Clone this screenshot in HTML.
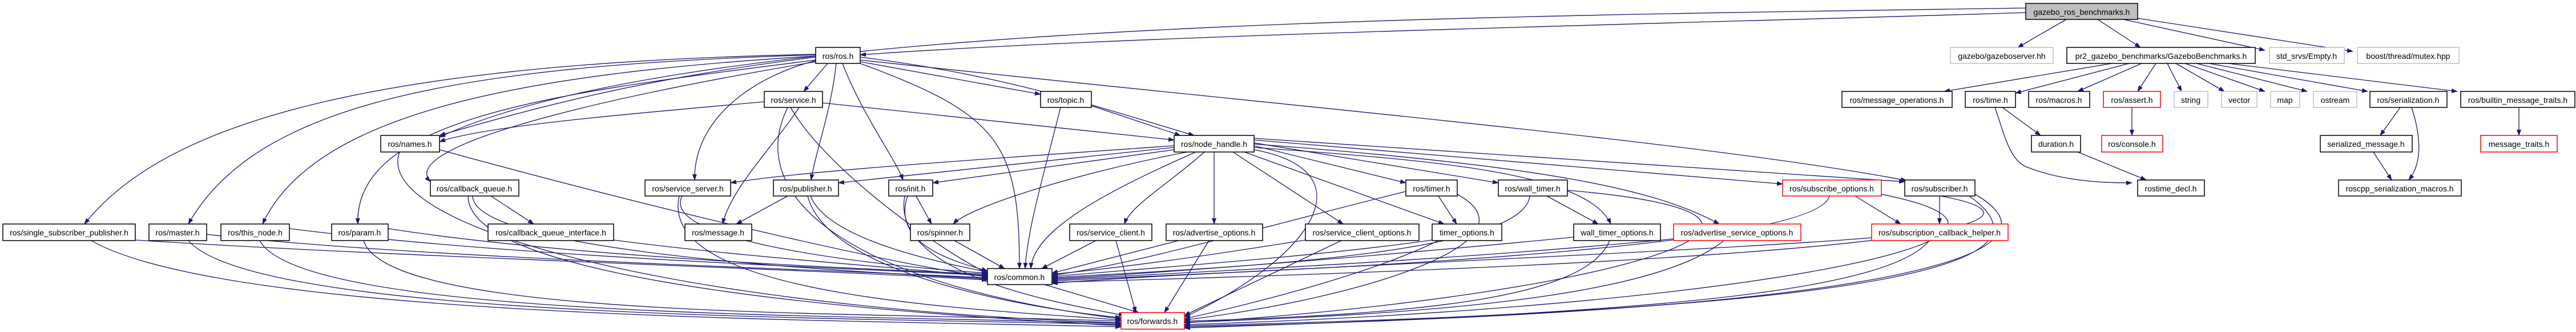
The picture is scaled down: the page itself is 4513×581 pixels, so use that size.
<!DOCTYPE html>
<html><head><meta charset="utf-8"><style>
html,body{margin:0;padding:0;background:#fff;}
svg{display:block;}
text{font-family:"Liberation Sans",sans-serif;font-size:14px;fill:#000;}
.e{fill:none;stroke:#191970;stroke-width:1.3;marker-end:url(#a);}
.n{fill:#fff;stroke:#000;stroke-width:1.5;}
.l{fill:#fff;stroke:#bfbfbf;stroke-width:1.5;}
.r{fill:#fff;stroke:#ff0000;stroke-width:1.5;}
.g{fill:#bfbfbf;stroke:#000;stroke-width:1.5;}
</style></head><body>
<svg width="4513" height="581" viewBox="0 0 4513 581" xmlns="http://www.w3.org/2000/svg">
<defs><marker id="a" markerWidth="11" markerHeight="8" refX="10" refY="4" orient="auto" markerUnits="userSpaceOnUse"><path d="M0,0 L11,4 L0,8 z" fill="#191970"/></marker></defs>
<g>
<path class="e" d="M3549 22 C3000 40 2000 60 1507 96"/>
<path class="e" d="M3549 14 C2500 30 1200 40 770 240"/>
<path class="e" d="M3620 34 L3535 83"/>
<path class="e" d="M3675 34 L3750 83"/>
<path class="e" d="M3720 34 L3968 88"/>
<path class="e" d="M3745 32 L4122 90"/>
<path class="e" d="M1429 100 C1100 140 900 200 770 237"/>
<path class="e" d="M1429 95 C700 110 300 200 148 392"/>
<path class="e" d="M1429 96 C800 115 450 180 330 392"/>
<path class="e" d="M1429 98 C900 130 550 200 460 392"/>
<path class="e" d="M1429 105 C1000 160 620 200 627 392"/>
<path class="e" d="M1429 108 C1000 180 700 260 754 318"/>
<path class="e" d="M1450 111 L1408 160"/>
<path class="e" d="M1507 108 L1823 165"/>
<path class="e" d="M1507 100 C1750 130 1900 180 2092 237"/>
<path class="e" d="M1476 111 C1510 200 1570 280 1582 315"/>
<path class="e" d="M1465 111 C1455 200 1430 260 1421 315"/>
<path class="e" d="M1507 111 C1750 200 1786 250 1786 470"/>
<path class="e" d="M1507 105 C2200 180 3000 250 3340 316"/>
<path class="e" d="M1429 106 C1300 140 1215 220 1217 315"/>
<path class="e" d="M1441 180 L2057 245"/>
<path class="e" d="M1400 188 C1360 250 1280 330 1266 392"/>
<path class="e" d="M1385 188 C1450 300 1650 440 1730 478"/>
<path class="e" d="M1339 178 C1100 200 850 220 770 248"/>
<path class="e" d="M1380 188 C1300 350 1500 500 1964 558"/>
<path class="e" d="M1912 185 L2068 237"/>
<path class="e" d="M1858 188 C1830 300 1800 400 1796 470"/>
<path class="e" d="M2057 255 C1700 280 1400 300 1280 320"/>
<path class="e" d="M2057 258 L1469 320"/>
<path class="e" d="M2057 262 L1634 320"/>
<path class="e" d="M2080 266 C1900 300 1700 360 1670 392"/>
<path class="e" d="M2110 266 C2050 320 1980 360 1970 392"/>
<path class="e" d="M2127 266 L2127 392"/>
<path class="e" d="M2095 266 C1950 330 1810 400 1806 470"/>
<path class="e" d="M2197 255 L2463 320"/>
<path class="e" d="M2197 250 L2625 320"/>
<path class="e" d="M2197 245 L3123 322"/>
<path class="e" d="M2197 242 L3337 318"/>
<path class="e" d="M2160 266 L2353 392"/>
<path class="e" d="M2180 266 L2530 392"/>
<path class="e" d="M2197 258 C2500 280 2780 300 2822 392"/>
<path class="e" d="M2197 252 C2700 290 2900 330 3012 392"/>
<path class="e" d="M2197 262 C2400 300 2300 450 2075 555"/>
<path class="e" d="M770 262 C1200 380 1600 470 1730 484"/>
<path class="e" d="M700 266 C650 400 1200 540 1964 565"/>
<path class="e" d="M860 343 L935 392"/>
<path class="e" d="M828 343 C830 450 1600 480 1730 488"/>
<path class="e" d="M820 343 C820 500 1600 550 1964 570"/>
<path class="e" d="M237 420 C700 450 1400 470 1730 490"/>
<path class="e" d="M160 421 C400 560 1500 560 1964 572"/>
<path class="e" d="M362 410 C700 450 1400 470 1730 486"/>
<path class="e" d="M330 421 C450 560 1500 555 1964 568"/>
<path class="e" d="M507 400 C900 450 1500 470 1730 482"/>
<path class="e" d="M455 421 C530 560 1500 550 1964 566"/>
<path class="e" d="M680 400 C1000 450 1500 470 1730 480"/>
<path class="e" d="M637 421 C680 560 1500 545 1964 562"/>
<path class="e" d="M1075 420 C1300 450 1600 470 1730 484"/>
<path class="e" d="M1195 343 C1150 430 1600 470 1730 478"/>
<path class="e" d="M1190 343 C1150 520 1700 540 1964 560"/>
<path class="e" d="M1380 343 L1290 392"/>
<path class="e" d="M1420 343 C1450 420 1650 460 1730 476"/>
<path class="e" d="M1415 343 C1450 480 1800 540 1964 556"/>
<path class="e" d="M1605 343 L1632 392"/>
<path class="e" d="M1590 343 C1560 430 1680 460 1730 474"/>
<path class="e" d="M1585 343 C1560 480 1850 530 1970 552"/>
<path class="e" d="M1672 421 L1760 470"/>
<path class="e" d="M1920 421 L1825 470"/>
<path class="e" d="M1955 421 L1990 547"/>
<path class="e" d="M2065 421 L1843 478"/>
<path class="e" d="M2118 421 L2040 547"/>
<path class="e" d="M2520 343 L2552 392"/>
<path class="e" d="M2463 335 C2200 400 2000 460 1843 482"/>
<path class="e" d="M2553 340 C2700 420 2400 520 2075 560"/>
<path class="e" d="M2710 343 L2800 392"/>
<path class="e" d="M2680 343 C2670 450 2100 470 1843 486"/>
<path class="e" d="M2746 333 C3300 380 2800 520 2075 565"/>
<path class="e" d="M2287 420 C2100 450 1950 470 1843 480"/>
<path class="e" d="M2350 421 L2075 552"/>
<path class="e" d="M2509 420 C2300 450 2000 470 1843 484"/>
<path class="e" d="M2520 421 C2400 480 2200 530 2075 558"/>
<path class="e" d="M2757 415 C2400 450 2000 480 1843 488"/>
<path class="e" d="M2820 421 C2780 520 2500 550 2075 562"/>
<path class="e" d="M2932 418 C2500 460 2000 480 1843 490"/>
<path class="e" d="M3020 421 C2900 520 2500 550 2075 564"/>
<path class="e" d="M3250 343 L3330 392"/>
<path class="e" d="M3205 343 C3180 450 2000 480 1843 492"/>
<path class="e" d="M3296 340 C3700 420 3000 540 2075 568"/>
<path class="e" d="M3398 343 L3398 392"/>
<path class="e" d="M3400 343 C3600 380 3500 450 1843 494"/>
<path class="e" d="M3450 343 C3600 450 3400 540 2075 570"/>
<path class="e" d="M3460 340 C3600 420 3500 540 2075 572"/>
<path class="e" d="M3279 416 C3000 440 2000 480 1843 496"/>
<path class="e" d="M3380 421 C3300 520 2800 550 2075 574"/>
<path class="e" d="M1830 498 L1995 547"/>
<path class="e" d="M3700 111 L3406 160"/>
<path class="e" d="M3730 111 L3531 163"/>
<path class="e" d="M3752 111 L3640 160"/>
<path class="e" d="M3777 111 L3745 160"/>
<path class="e" d="M3797 111 L3822 160"/>
<path class="e" d="M3812 111 L3897 160"/>
<path class="e" d="M3828 111 L3968 160"/>
<path class="e" d="M3848 111 L4042 160"/>
<path class="e" d="M3870 111 L4148 160"/>
<path class="e" d="M3903 111 L4305 160"/>
<path class="e" d="M3508 188 L3575 237"/>
<path class="e" d="M3495 188 C3510 230 3520 280 3550 292 C3620 320 3700 320 3735 320"/>
<path class="e" d="M3640 266 L3760 315"/>
<path class="e" d="M3735 188 L3735 237"/>
<path class="e" d="M4205 188 L4170 237"/>
<path class="e" d="M4225 188 C4245 250 4240 290 4220 315"/>
<path class="e" d="M4158 266 L4190 315"/>
<path class="e" d="M4413 188 L4413 237"/>
</g>
<g>
<rect class="g" x="3549" y="6" width="196" height="28"/><text x="3647" y="21" text-anchor="middle" dominant-baseline="central">gazebo_ros_benchmarks.h</text>
<rect class="l" x="3417" y="83" width="180" height="28"/><text x="3507" y="98" text-anchor="middle" dominant-baseline="central">gazebo/gazeboserver.hh</text>
<rect class="n" x="3621" y="83" width="330" height="28"/><text x="3786" y="98" text-anchor="middle" dominant-baseline="central">pr2_gazebo_benchmarks/GazeboBenchmarks.h</text>
<rect class="l" x="3976" y="83" width="131" height="28"/><text x="4041" y="98" text-anchor="middle" dominant-baseline="central">std_srvs/Empty.h</text>
<rect class="l" x="4130" y="83" width="178" height="28"/><text x="4219" y="98" text-anchor="middle" dominant-baseline="central">boost/thread/mutex.hpp</text>
<rect class="n" x="1429" y="83" width="78" height="28"/><text x="1468" y="98" text-anchor="middle" dominant-baseline="central">ros/ros.h</text>
<rect class="n" x="1339" y="160" width="102" height="28"/><text x="1390" y="175" text-anchor="middle" dominant-baseline="central">ros/service.h</text>
<rect class="n" x="1823" y="160" width="89" height="28"/><text x="1867" y="175" text-anchor="middle" dominant-baseline="central">ros/topic.h</text>
<rect class="n" x="3227" y="160" width="193" height="28"/><text x="3323" y="175" text-anchor="middle" dominant-baseline="central">ros/message_operations.h</text>
<rect class="n" x="3443" y="160" width="88" height="28"/><text x="3487" y="175" text-anchor="middle" dominant-baseline="central">ros/time.h</text>
<rect class="n" x="3554" y="160" width="107" height="28"/><text x="3607" y="175" text-anchor="middle" dominant-baseline="central">ros/macros.h</text>
<rect class="r" x="3685" y="160" width="100" height="28"/><text x="3735" y="175" text-anchor="middle" dominant-baseline="central">ros/assert.h</text>
<rect class="l" x="3809" y="160" width="59" height="28"/><text x="3838" y="175" text-anchor="middle" dominant-baseline="central">string</text>
<rect class="l" x="3892" y="160" width="62" height="28"/><text x="3923" y="175" text-anchor="middle" dominant-baseline="central">vector</text>
<rect class="l" x="3978" y="160" width="51" height="28"/><text x="4003" y="175" text-anchor="middle" dominant-baseline="central">map</text>
<rect class="l" x="4053" y="160" width="76" height="28"/><text x="4091" y="175" text-anchor="middle" dominant-baseline="central">ostream</text>
<rect class="n" x="4152" y="160" width="135" height="28"/><text x="4219" y="175" text-anchor="middle" dominant-baseline="central">ros/serialization.h</text>
<rect class="n" x="4311" y="160" width="200" height="28"/><text x="4411" y="175" text-anchor="middle" dominant-baseline="central">ros/builtin_message_traits.h</text>
<rect class="n" x="667" y="237" width="103" height="29"/><text x="718" y="252" text-anchor="middle" dominant-baseline="central">ros/names.h</text>
<rect class="n" x="2057" y="237" width="140" height="29"/><text x="2127" y="252" text-anchor="middle" dominant-baseline="central">ros/node_handle.h</text>
<rect class="n" x="3559" y="237" width="86" height="29"/><text x="3602" y="252" text-anchor="middle" dominant-baseline="central">duration.h</text>
<rect class="r" x="3682" y="237" width="107" height="29"/><text x="3735" y="252" text-anchor="middle" dominant-baseline="central">ros/console.h</text>
<rect class="n" x="4065" y="237" width="161" height="29"/><text x="4145" y="252" text-anchor="middle" dominant-baseline="central">serialized_message.h</text>
<rect class="r" x="4346" y="237" width="134" height="29"/><text x="4413" y="252" text-anchor="middle" dominant-baseline="central">message_traits.h</text>
<rect class="n" x="754" y="315" width="155" height="28"/><text x="831" y="330" text-anchor="middle" dominant-baseline="central">ros/callback_queue.h</text>
<rect class="n" x="1130" y="315" width="150" height="28"/><text x="1205" y="330" text-anchor="middle" dominant-baseline="central">ros/service_server.h</text>
<rect class="n" x="1355" y="315" width="114" height="28"/><text x="1412" y="330" text-anchor="middle" dominant-baseline="central">ros/publisher.h</text>
<rect class="n" x="1557" y="315" width="77" height="28"/><text x="1595" y="330" text-anchor="middle" dominant-baseline="central">ros/init.h</text>
<rect class="n" x="2463" y="315" width="90" height="28"/><text x="2508" y="330" text-anchor="middle" dominant-baseline="central">ros/timer.h</text>
<rect class="n" x="2625" y="315" width="121" height="28"/><text x="2685" y="330" text-anchor="middle" dominant-baseline="central">ros/wall_timer.h</text>
<rect class="r" x="3123" y="315" width="173" height="28"/><text x="3209" y="330" text-anchor="middle" dominant-baseline="central">ros/subscribe_options.h</text>
<rect class="n" x="3337" y="315" width="123" height="28"/><text x="3398" y="330" text-anchor="middle" dominant-baseline="central">ros/subscriber.h</text>
<rect class="n" x="3745" y="315" width="117" height="28"/><text x="3803" y="330" text-anchor="middle" dominant-baseline="central">rostime_decl.h</text>
<rect class="n" x="4097" y="315" width="215" height="28"/><text x="4204" y="330" text-anchor="middle" dominant-baseline="central">roscpp_serialization_macros.h</text>
<rect class="n" x="5" y="392" width="232" height="29"/><text x="121" y="407" text-anchor="middle" dominant-baseline="central">ros/single_subscriber_publisher.h</text>
<rect class="n" x="261" y="392" width="101" height="29"/><text x="311" y="407" text-anchor="middle" dominant-baseline="central">ros/master.h</text>
<rect class="n" x="387" y="392" width="120" height="29"/><text x="447" y="407" text-anchor="middle" dominant-baseline="central">ros/this_node.h</text>
<rect class="n" x="581" y="392" width="99" height="29"/><text x="630" y="407" text-anchor="middle" dominant-baseline="central">ros/param.h</text>
<rect class="n" x="855" y="392" width="220" height="29"/><text x="965" y="407" text-anchor="middle" dominant-baseline="central">ros/callback_queue_interface.h</text>
<rect class="n" x="1200" y="392" width="117" height="29"/><text x="1258" y="407" text-anchor="middle" dominant-baseline="central">ros/message.h</text>
<rect class="n" x="1595" y="392" width="104" height="29"/><text x="1647" y="407" text-anchor="middle" dominant-baseline="central">ros/spinner.h</text>
<rect class="n" x="1874" y="392" width="144" height="29"/><text x="1946" y="407" text-anchor="middle" dominant-baseline="central">ros/service_client.h</text>
<rect class="n" x="2043" y="392" width="169" height="29"/><text x="2127" y="407" text-anchor="middle" dominant-baseline="central">ros/advertise_options.h</text>
<rect class="n" x="2287" y="392" width="199" height="29"/><text x="2386" y="407" text-anchor="middle" dominant-baseline="central">ros/service_client_options.h</text>
<rect class="n" x="2509" y="392" width="122" height="29"/><text x="2570" y="407" text-anchor="middle" dominant-baseline="central">timer_options.h</text>
<rect class="n" x="2757" y="392" width="152" height="29"/><text x="2833" y="407" text-anchor="middle" dominant-baseline="central">wall_timer_options.h</text>
<rect class="r" x="2932" y="392" width="223" height="29"/><text x="3043" y="407" text-anchor="middle" dominant-baseline="central">ros/advertise_service_options.h</text>
<rect class="r" x="3279" y="392" width="239" height="29"/><text x="3398" y="407" text-anchor="middle" dominant-baseline="central">ros/subscription_callback_helper.h</text>
<rect class="n" x="1730" y="470" width="113" height="28"/><text x="1786" y="485" text-anchor="middle" dominant-baseline="central">ros/common.h</text>
<rect class="r" x="1964" y="547" width="111" height="29"/><text x="2019" y="562" text-anchor="middle" dominant-baseline="central">ros/forwards.h</text>
</g>
</svg>
</body></html>
